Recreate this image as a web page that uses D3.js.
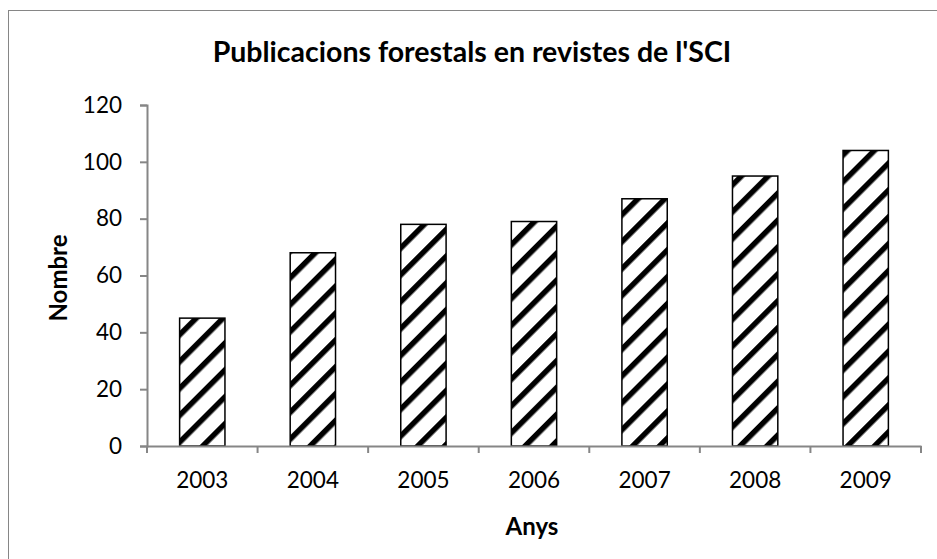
<!DOCTYPE html>
<html><head><meta charset="utf-8">
<script src="https://cdn.jsdelivr.net/npm/d3@7"></script>
<style>body{margin:0;background:#fff}svg{display:block}text{font-family:Lato,"Open Sans",sans-serif}</style>
</head><body>
<script>
const years = ["2003","2004","2005","2006","2007","2008","2009"];
const counts = [45,68,78,79,87,95,104];
const yTicks = [0,20,40,60,80,100,120];
const title = "Publicacions forestals en revistes de l'SCI";
const xTitle = "Anys";
const yTitle = "Nombre";

const W=937,H=559;
const FONT="Lato,'Open Sans',sans-serif";
const svg=d3.select("body").append("svg").attr("width",W).attr("height",H);
const defs=svg.append("defs");
const pat=defs.append("pattern").attr("id","hatch").attr("patternUnits","userSpaceOnUse")
  .attr("width",19).attr("height",19).attr("patternTransform","rotate(45)");
pat.append("rect").attr("width",19).attr("height",19).attr("fill","#fff");
pat.append("rect").attr("x",0).attr("y",0).attr("width",5.5).attr("height",19).attr("fill","#000");

svg.append("rect").attr("x",8.5).attr("y",10.5).attr("width",960).attr("height",600)
  .attr("fill","none").attr("stroke","#868686").attr("stroke-width",1);

const x0=147,x1=921,yb=446,yt=105;
const x=d3.scaleBand().domain(years).range([x0,x1]).paddingInner(0.59).paddingOuter(0.295);
const xb=d3.scaleBand().domain(years).range([x0,x1]);
const y=d3.scaleLinear().domain([0,120]).range([yb,yt]);

// bars
svg.append("g").selectAll("rect").data(years).join("rect")
  .attr("x",d=>x(d)).attr("width",x.bandwidth())
  .attr("y",(d,i)=>y(counts[i])).attr("height",(d,i)=>yb-y(counts[i]))
  .attr("fill","url(#hatch)").attr("stroke","#000").attr("stroke-width",1.5);

// y axis
const ya=svg.append("g").attr("transform",`translate(${x0},0)`)
  .call(d3.axisLeft(y).tickValues(yTicks).tickSize(7).tickPadding(18).tickFormat(d3.format("d")));
ya.select(".domain").attr("stroke","#868686").attr("stroke-width",2);
ya.selectAll(".tick line").attr("stroke","#868686").attr("stroke-width",2);
ya.selectAll("text").attr("font-size",22.5).attr("fill","#000").style("font-family",FONT);

// x axis
const xa=svg.append("g").attr("transform",`translate(0,${yb})`)
  .call(d3.axisBottom(xb).tickSize(0).tickPadding(26));
xa.select(".domain").attr("stroke","#868686").attr("stroke-width",2);
xa.selectAll("text").attr("font-size",22.5).attr("fill","#000").style("font-family",FONT);
// boundary tick marks
const bounds=years.map(d=>xb(d)).concat([x1]);
svg.append("g").selectAll("line").data(bounds).join("line")
  .attr("x1",d=>d).attr("x2",d=>d).attr("y1",yb).attr("y2",yb+7)
  .attr("stroke","#868686").attr("stroke-width",2);

svg.append("text").attr("x",472).attr("y",62).attr("text-anchor","middle")
  .attr("font-size",28.5).attr("font-weight","bold").text(title);
svg.append("text").attr("x",532).attr("y",535).attr("text-anchor","middle")
  .attr("font-size",24).attr("font-weight","bold").text(xTitle);
svg.append("text").attr("transform","translate(67,278) rotate(-90)").attr("text-anchor","middle")
  .attr("font-size",24).attr("font-weight","bold").text(yTitle);
</script>
</body></html>
